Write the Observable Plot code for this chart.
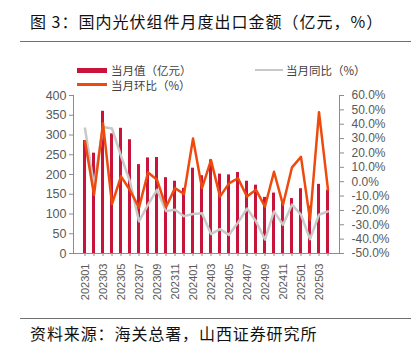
<!DOCTYPE html>
<html>
<head>
<meta charset="utf-8">
<script src="https://cdn.jsdelivr.net/npm/d3@7"></script>
<script src="https://cdn.jsdelivr.net/npm/@observablehq/plot@0.6"></script>
<style>
  html, body { margin: 0; padding: 0; background: #fff; }
  #wrap { position: relative; width: 414px; height: 355px; overflow: hidden; font-family: "Noto Sans CJK SC", "Noto Sans", sans-serif; }
  #chart { position: absolute; left: 0; top: 0; }
  .title { position: absolute; left: 30px; top: 11px; font-size: 16px; line-height: 20px; letter-spacing: 1px; color: #111; white-space: nowrap; }
  .rule { position: absolute; left: 20px; width: 391px; height: 1px; background: #707070; }
  .source { position: absolute; left: 30px; top: 323px; font-size: 16px; line-height: 20px; letter-spacing: 0.9px; color: #111; white-space: nowrap; }
  .leg { position: absolute; font-size: 11.5px; line-height: 13px; color: #404040; white-space: nowrap; }
  .sw { position: absolute; }
</style>
</head>
<body>
<div id="wrap">
  <div class="title">图 3：国内光伏组件月度出口金额（亿元，%）</div>
  <div class="rule" style="top:41px"></div>
  <div id="chart"></div>
  <div class="sw" style="left:77px;top:68px;width:30px;height:5px;background:#C8133B"></div>
  <div class="leg" style="left:111px;top:64px">当月值（亿元）</div>
  <div class="sw" style="left:255px;top:69px;width:28px;height:2px;background:#c8c8c8"></div>
  <div class="leg" style="left:286px;top:64px">当月同比（%）</div>
  <div class="sw" style="left:77px;top:83px;width:30px;height:3px;background:#EE4A0E"></div>
  <div class="leg" style="left:111px;top:79px">当月环比（%）</div>
  <div class="rule" style="top:318px"></div>
  <div class="source">资料来源：海关总署，山西证券研究所</div>
</div>
<script>
const months = [
  "202301","202302","202303","202304","202305","202306","202307","202308","202309","202310","202311","202312",
  "202401","202402","202403","202404","202405","202406","202407","202408","202409","202410","202411","202412",
  "202501","202502","202503","202504"
];
const exportValue = [286, 254, 360, 303, 317, 288, 225, 242, 243, 192, 183, 165,
                     216, 197, 237, 201, 199, 205, 183, 173, 142, 153, 128, 139,
                     164, 120, 175, 160];
const yoy = [37, -3, 38, 37, 18, 0, -27.6, -16, -5.7, -20.5, -19.6, -24,
             -22.5, -22, -36.5, -33, -37, -28.5, -18.7, -27.6, -40.3, -20.7, -30, -16,
             -23, -40, -23, -20.7];
const mom = [28.2, -9.1, 40.6, -15.7, 3.7, -6, -18.1, 6.4, 1.4, -17.7, -4.5, -8.6,
             30.0, -4.5, 15.0, -10.4, -1.2, 2.4, -10.4, -5.7, -17.3, 6.9, -16.1, 10.0,
             17.3, -26.5, 48.4, -5.7];
const leftTicks = [0, 50, 100, 150, 200, 250, 300, 350, 400];
const rightTicks = [-50, -40, -30, -20, -10, 0, 10, 20, 30, 40, 50, 60];
const labelMonths = months.filter((m, i) => i % 2 === 0);

const data = months.map((m, i) => ({month: m, value: exportValue[i], yoy: yoy[i], mom: mom[i]}));

// map right-axis percentages onto the left-axis domain
const L0 = 0, L1 = 400, R0 = -50, R1 = 60;
const toY = p => L0 + (p - R0) * (L1 - L0) / (R1 - R0);
const fromY = v => R0 + (v - L0) * (R1 - R0) / (L1 - L0);

const axisColor = "#8c8c8c";
const labelColor = "#595959";

const chart = Plot.plot({
  width: 414,
  height: 320,
  marginTop: 95,
  marginBottom: 67,
  marginLeft: 73,
  marginRight: 75,
  style: {fontFamily: "'Liberation Sans', Arial, sans-serif", fontSize: "12px", color: labelColor, background: "transparent", overflow: "visible"},
  x: {type: "band", domain: months, paddingInner: 0.62, paddingOuter: 0.31, axis: null},
  y: {domain: [L0, L1], axis: null},
  marks: [
    Plot.barY(data, {x: "month", y: "value", fill: "#C8133B"}),
    Plot.line(data, {x: "month", y: d => toY(d.yoy), stroke: "#c8c8c8", strokeWidth: 2.5, curve: "linear"}),
    Plot.line(data, {x: "month", y: d => toY(d.mom), stroke: "#EE4A0E", strokeWidth: 2.5, curve: "linear"}),
    Plot.frame({anchor: "left", stroke: axisColor}),
    Plot.frame({anchor: "right", stroke: axisColor}),
    Plot.frame({anchor: "bottom", stroke: axisColor}),
    Plot.axisY(leftTicks, {anchor: "left", tickSize: 4, tickPadding: 3, stroke: axisColor, fill: labelColor, fontSize: 12.5, label: null}),
    Plot.axisY(rightTicks.map(toY), {anchor: "right", tickSize: 4, tickPadding: 8, stroke: axisColor, fill: labelColor, fontSize: 12,
      tickFormat: v => Math.round(fromY(v)).toFixed(1) + "%", label: null}),
    Plot.axisX(months, {anchor: "bottom", tickSize: 3, tickFormat: () => "", stroke: axisColor, label: null}),
    Plot.axisX(labelMonths, {anchor: "bottom", tickSize: 0, tickPadding: 10, tickRotate: -90, fill: labelColor, fontSize: 11, label: null})
  ]
});
document.getElementById("chart").appendChild(chart);
</script>
</body>
</html>
